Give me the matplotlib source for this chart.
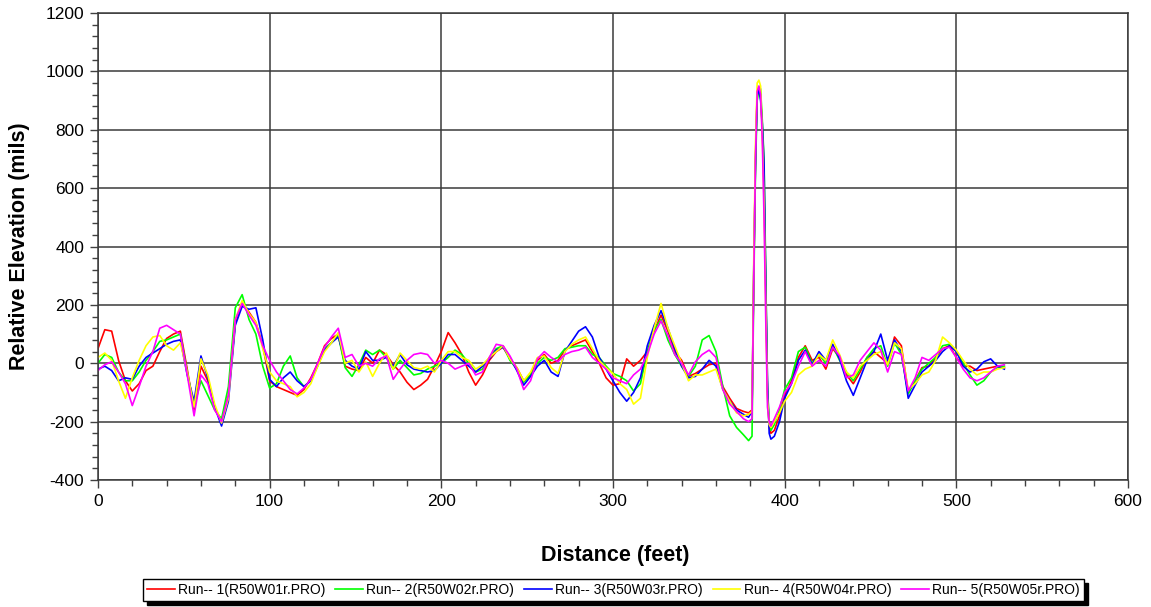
import matplotlib
matplotlib.use("Agg")
import matplotlib.pyplot as plt
from matplotlib.ticker import MultipleLocator

plt.rcParams['font.family'] = ['Liberation Sans', 'DejaVu Sans']
plt.rcParams['axes.unicode_minus'] = False

# distance along the profile (feet)
dist_ft = [
    0, 4, 8, 12, 16, 20, 24, 28, 32, 36, 40, 44, 48, 52, 56, 60, 64, 68, 72, 76,
    80, 84, 88, 92, 96, 100, 104, 108, 112, 116, 120, 124, 128, 132, 136, 140,
    144, 148, 152, 156, 160, 164, 168, 172, 176, 180, 184, 188, 192, 196, 200,
    204, 208, 212, 216, 220, 224, 228, 232, 236, 240, 244, 248, 252, 256, 260,
    264, 268, 272, 276, 280, 284, 288, 292, 296, 300, 304, 308, 312, 316, 320,
    324, 328, 332, 336, 340, 344, 348, 352, 356, 360, 364, 368, 372, 376,
    379, 381, 382, 383, 384, 385, 386, 387, 388, 389, 390, 391, 392, 394, 397,
    400, 404, 408, 412, 416, 420, 424, 428, 432, 436, 440, 444, 448, 452, 456,
    460, 464, 468, 472, 476, 480, 484, 488, 492, 496, 500, 504, 508, 512, 516,
    520, 524, 528,
]

run1 = [
    50, 115, 110, 10, -60, -95, -70, -25, -10, 40, 85, 100, 110, -20, -160, -10, -60, -150, -200, -110,
    140, 205, 175, 140, 60, -60, -80, -90, -100, -110, -90, -50, 0, 60, 85, 100,
    -10, -20, -25, 20, 0, 45, 30, -5, -30, -65, -90, -75, -55, -10, 40,
    105, 70, 30, -30, -75, -40, 10, 40, 55, 15, -15, -60, -40, 10, 30,
    0, 10, 45, 60, 70, 80, 40, 0, -50, -75, -70, 15, -10, 10, 40,
    110, 165, 110, 40, 10, -45, -35, -20, -5, 0, -80, -120, -155, -165,
    -170, -160, 300, 700, 930, 945, 920, 800, 600, 250, -100, -220, -240, -230, -180,
    -110, -60, 20, 60, 10, 20, -20, 50, 20, -40, -70, -30, 20, 40, 20,
    0, 90, 60, -100, -60, -15, -10, 20, 50, 60, 20, -10, -10, -25, -20,
    -15, -10, -15,
]

run2 = [
    0, 30, 20, -30, -60, -60, -30, 10, 40, 75, 80, 90, 100, -30, -150, -60, -110, -160, -190, -80,
    190, 235, 150, 100, -10, -85, -70, -10, 25, -50, -80, -60, -10, 50, 70, 95,
    -15, -45, -5, 45, 30, 45, 20, -20, 10, -15, -40, -35, -20, -10, 0,
    20, 45, 30, 0, -30, -20, 20, 50, 60, 10, -20, -65, -40, 0, 20,
    10, 20, 50, 55, 60, 60, 30, 20, -10, -35, -45, -60, -95, -70, 40,
    115, 150, 80, 30, -10, -45, -10, 80, 95, 40, -80, -180, -220, -245,
    -265, -250, 250, 650, 900, 935, 940, 830, 700, 300, -80, -200, -230, -210, -160,
    -90, -50, 40, 55, 0, 30, 0, 60, 10, -30, -60, -20, 20, 50, 60,
    -10, 70, 30, -105, -60, -20, 0, 20, 60, 65, 40, 0, -40, -75, -60,
    -30, -15, -10,
]

run3 = [
    -20, -10, -25, -60, -50, -55, -10, 20, 35, 50, 65, 75, 80, -40, -130, 25, -50, -150, -215, -130,
    130, 195, 185, 190, 80, -55, -80, -50, -30, -60, -80, -60, -5, 45, 70, 90,
    10, -10, -20, 40, 10, 10, 20, -10, 30, -5, -20, -25, -30, -25, 0,
    30, 30, 10, -10, -30, -10, 15, 45, 55, 20, -25, -75, -45, -10, 10,
    -30, -45, 40, 75, 110, 125, 90, 20, -20, -60, -100, -130, -100, -50, 60,
    130, 180, 120, 50, -10, -50, -45, -20, 10, -10, -90, -130, -160, -175,
    -185, -165, 320, 680, 920, 935, 900, 820, 680, 280, -60, -240, -260, -250, -200,
    -120, -70, 10, 45, -5, 40, 10, 65, 15, -60, -110, -50, 10, 40, 100,
    10, 80, 40, -120, -75, -30, -10, 10, 40, 60, 40, -10, -30, -20, 5,
    15, -10, -20,
]

run4 = [
    20, 35, 10, -60, -120, -50, 10, 60, 90, 95, 60, 45, 70, -30, -150, 15, -40, -140, -205, -120,
    150, 215, 170, 140, 50, -30, -60, -70, -80, -115, -100, -70, -10, 40, 70, 105,
    0, 10, -30, 5, -45, 0, 35, -20, 35, 10, -15, -20, -10, -30, 10,
    40, 40, 20, 10, -20, -5, 20, 40, 60, 15, -15, -60, -30, 20, 25,
    -15, -35, 40, 65, 80, 90, 50, 10, -15, -35, -70, -90, -140, -120, 20,
    120, 205, 120, 60, 0, -60, -40, -40, -30, -20, -90, -130, -170, -180,
    -175, -165, 350, 750, 960, 970, 950, 780, 550, 200, -120, -210, -220, -200, -170,
    -130, -100, -40, -20, -10, 30, 10, 80, 30, -30, -50, -10, 10, 30, 40,
    -5, 70, 50, -90, -70, -40, -30, 10, 90, 70, 45, 10, -20, -40, -30,
    -30, -20, -15,
]

run5 = [
    -25, -5, 5, -30, -70, -145, -80, -10, 40, 120, 130, 115, 100, -40, -180, -40, -70, -160, -200, -110,
    150, 205, 165, 130, 60, 10, -30, -60, -90, -105, -85, -55, 0, 55, 90, 120,
    20, 30, -10, 0, -10, 15, 25, -55, -20, 10, 30, 35, 30, 0, 10,
    0, -20, -10, 0, -40, -30, 20, 65, 60, 25, -20, -90, -60, 15, 40,
    20, 5, 30, 40, 45, 55, 20, 0, -20, -50, -60, -70, -40, -20, 30,
    100, 145, 95, 30, 0, -40, 5, 30, 45, 20, -90, -140, -165, -190,
    -200, -190, 280, 700, 930, 950, 920, 760, 500, 150, -150, -200, -215, -190, -150,
    -100, -70, -10, 40, -10, 10, -10, 55, 25, -50, -40, 10, 40, 70, 45,
    -30, 40, 30, -95, -50, 20, 10, 30, 50, 55, 20, -20, -50, -60, -50,
    -30, -10, -5,
]

run_names = [
    'Run-- 1(R50W01r.PRO)', 'Run-- 2(R50W02r.PRO)', 'Run-- 3(R50W03r.PRO)',
    'Run-- 4(R50W04r.PRO)', 'Run-- 5(R50W05r.PRO)',
]
run_colors = ['#ff0000', '#00ff00', '#0000ff', '#ffff00', '#ff00ff']

fig = plt.figure(figsize=(11.51, 6.07), dpi=100)
ax = fig.add_axes([0.0851, 0.2092, 0.8949, 0.7694])

for values, name, color in zip([run1, run2, run3, run4, run5], run_names, run_colors):
    ax.plot(dist_ft, values, color=color, lw=1.2, label=name)

ax.set_xlim(0, 600)
ax.set_ylim(-400, 1200)
ax.xaxis.set_major_locator(MultipleLocator(100))
ax.xaxis.set_minor_locator(MultipleLocator(20))
ax.yaxis.set_major_locator(MultipleLocator(200))
ax.yaxis.set_minor_locator(MultipleLocator(40))
ax.grid(True, which='major', color='#3a3a3a', lw=1.1)
ax.set_axisbelow(True)
ax.tick_params(which='major', direction='out', length=6, width=1, color='#404040',
               labelsize=12.5, pad=4)
ax.tick_params(which='minor', direction='out', length=4, width=1, color='#404040')
for spine in ax.spines.values():
    spine.set_color('#3a3a3a')
    spine.set_linewidth(1.1)

ax.set_xlabel('Distance (feet)', fontsize=15.5, fontweight='bold')
ax.set_ylabel('Relative Elevation (mils)', fontsize=15.5, fontweight='bold')
ax.xaxis.set_label_coords(0.502, -0.14)
ax.yaxis.set_label_coords(-0.066, 0.5)

leg = fig.legend(loc='center', bbox_to_anchor=(0.533, 0.028), ncol=5, fontsize=10,
                 handlelength=2.0, handletextpad=0.25, columnspacing=0.7,
                 frameon=True, fancybox=False, borderpad=0.3,
                 shadow={'color': 'black', 'alpha': 1.0, 'ox': 3, 'oy': -3})
leg.get_frame().set_edgecolor('black')
leg.get_frame().set_linewidth(1.0)
for line in leg.get_lines():
    line.set_linewidth(1.2)

fig.savefig('out.png', dpi=100)
